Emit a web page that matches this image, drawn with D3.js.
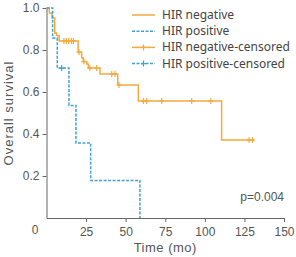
<!DOCTYPE html>
<html>
<head>
<meta charset="utf-8">
<script src="https://cdn.jsdelivr.net/npm/d3@7"></script>
<style>
  body { margin: 0; background: #fff; }
  text { font-family: "Liberation Sans", Arial, sans-serif; }
</style>
</head>
<body>
<div id="chart"></div>
<script>
// Kaplan-Meier steps: [time (mo), survival]
const negSteps = [[0, 1.0], [1.8, 0.976], [3.4, 0.952], [5.2, 0.881], [6.3, 0.869], [8.0, 0.843],
  [20.0, 0.79], [22.2, 0.763], [23.2, 0.745], [25.4, 0.733], [26.4, 0.714], [33.8, 0.686],
  [45.0, 0.633], [58.0, 0.557], [110.6, 0.371], [131.0, 0.371]];
const negCensored = [[11, 0.843], [12.5, 0.843], [14, 0.843], [15.8, 0.843], [17, 0.843],
  [20.5, 0.79], [23.6, 0.745], [27.4, 0.714], [31.7, 0.714], [41.2, 0.686], [43.3, 0.686],
  [45.8, 0.633], [61.2, 0.557], [63.3, 0.557], [72.8, 0.557], [91.7, 0.557], [103.8, 0.557],
  [128, 0.371], [130.2, 0.371]];
const posSteps = [[0, 1.0], [3.9, 0.857], [6.8, 0.714], [14.2, 0.536], [18.6, 0.357],
  [27.9, 0.179], [59.0, 0]];
const posCensored = [[9.6, 0.714]];

const xTicks = [25, 50, 75, 100, 125, 150];
const yTicks = [0.2, 0.4, 0.6, 0.8, 1.0];
const legendLabels = ["HIR negative", "HIR positive", "HIR negative-censored", "HIR positive-censored"];

let width = 296, height = 257;
let margin = { top: 8, right: 12, bottom: 39, left: 46.5 };

const orange = "#f6a93f", blue = "#3ea3d2", axisCol = "#666", textCol = "#555";

let svg = d3.select('#chart')
  .append('svg')
  .attr('width', width)
  .attr('height', height);

let xScale = d3.scaleLinear()
  .domain([0, 150])
  .range([margin.left, width - margin.right]);

let yScale = d3.scaleLinear()
  .domain([0, 1])
  .range([height - margin.bottom, margin.top]);

// axes
let xAxis = svg.append('g')
  .attr('transform', `translate(0,${height - margin.bottom})`)
  .call(d3.axisBottom(xScale).tickValues(xTicks).tickSize(4).tickSizeOuter(0).tickPadding(5));

let yAxis = svg.append('g')
  .attr('transform', `translate(${margin.left},0)`)
  .call(d3.axisLeft(yScale).tickValues(yTicks).tickFormat(d3.format('.1f')).tickSize(4).tickSizeOuter(0).tickPadding(3));

[xAxis, yAxis].forEach(a => {
  a.selectAll('path, line').attr('stroke', axisCol);
  a.selectAll('text').attr('fill', textCol).style('font-size', '12px');
});

// origin label sits left of the corner
svg.append('text')
  .attr('x', margin.left - 8)
  .attr('y', height - margin.bottom + 16)
  .attr('text-anchor', 'end')
  .attr('fill', textCol)
  .style('font-size', '12px')
  .text('0');

// curves
let line = d3.line()
  .x(d => xScale(d[0]))
  .y(d => yScale(d[1]))
  .curve(d3.curveStepAfter);

svg.append('path')
  .datum(negSteps)
  .attr('d', line)
  .attr('fill', 'none')
  .attr('stroke', orange)
  .attr('stroke-width', 1.5);

svg.append('path')
  .datum(posSteps)
  .attr('d', line)
  .attr('fill', 'none')
  .attr('stroke', blue)
  .attr('stroke-width', 1.5)
  .attr('stroke-dasharray', '3,1.5');

// censor marks
function censor(data, col) {
  svg.selectAll(null)
    .data(data)
    .enter().append('path')
    .attr('d', d => `M${xScale(d[0])},${yScale(d[1]) - 3}v6M${xScale(d[0]) - 2.5},${yScale(d[1])}h5`)
    .attr('stroke', col)
    .attr('stroke-width', 1.2)
    .attr('fill', 'none');
}
censor(negCensored, orange);
censor(posCensored, blue);

// axis titles
svg.append('text')
  .attr('x', xScale(75))
  .attr('y', height - 5)
  .attr('text-anchor', 'middle')
  .attr('fill', textCol)
  .style('font-size', '13px')
  .style('letter-spacing', '0.5px')
  .text('Time (mo)');

svg.append('text')
  .attr('transform', `translate(13,${yScale(0.5)}) rotate(-90)`)
  .attr('text-anchor', 'middle')
  .attr('fill', textCol)
  .style('font-size', '13px')
  .style('letter-spacing', '1px')
  .text('Overall survival');

svg.append('text')
  .attr('x', xScale(150))
  .attr('y', yScale(0.08))
  .attr('text-anchor', 'end')
  .attr('fill', textCol)
  .style('font-size', '12px')
  .text('p=0.004');

// legend
const legend = svg.selectAll('.legend')
  .data(legendLabels)
  .enter().append('g')
  .attr('class', 'legend')
  .attr('transform', (d, i) => `translate(132,${15 + i * 16.2})`);

legend.append('line')
  .attr('x1', 0).attr('x2', 23)
  .attr('stroke', (d, i) => i % 2 ? blue : orange)
  .attr('stroke-width', 1.5)
  .attr('stroke-dasharray', (d, i) => i % 2 ? '3,1.5' : null);

legend.filter((d, i) => i >= 2).append('path')
  .attr('d', 'M11.5,-3v6M9,0h5')
  .attr('stroke', (d, i) => i % 2 ? blue : orange)
  .attr('stroke-width', 1.2);

legend.append('text')
  .attr('x', 30)
  .attr('y', 4)
  .attr('fill', '#444')
  .style('font-family', '"Noto Sans", sans-serif')
  .style('font-size', '12px')
  .text(d => d);
</script>
</body>
</html>
